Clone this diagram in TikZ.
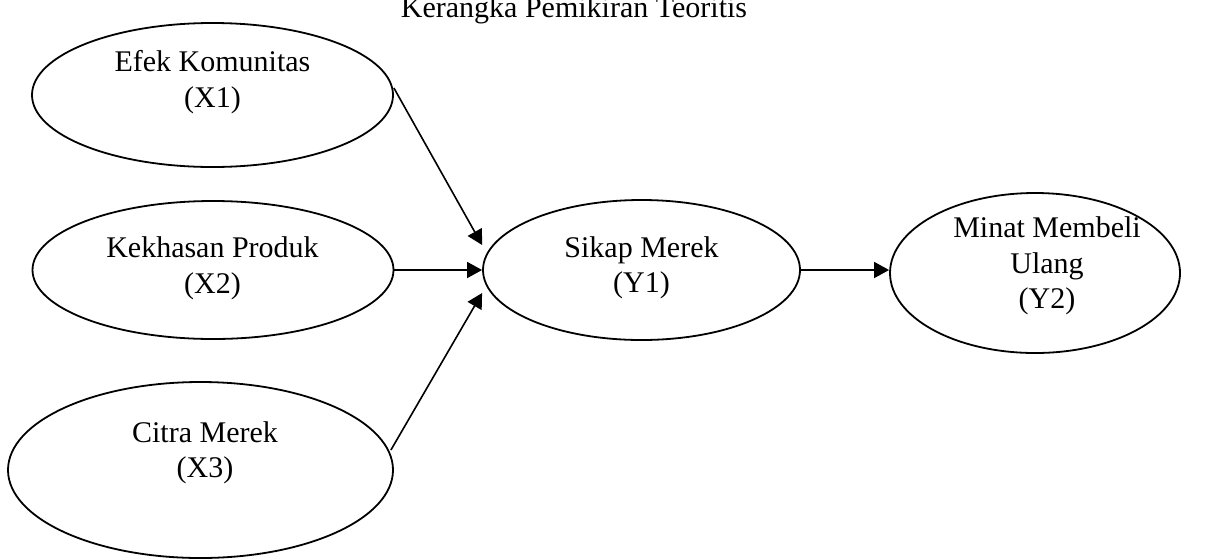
\documentclass[tikz,border=0pt]{standalone}
\usepackage{fontspec}
\setmainfont{Liberation Serif}
\usetikzlibrary{arrows.meta,calc,shapes.geometric}
\begin{document}
\begin{tikzpicture}[x=0.5pt,y=-0.5pt,
  oval/.style={draw,ellipse,line width=0.9pt,inner sep=0pt},
  lbl/.style={anchor=base,inner sep=0pt,font=\fontsize{15pt}{17.5pt}\selectfont},
  conn/.style={line width=0.8pt,-{Triangle[length=7.5pt,width=8pt]}}]
\useasboundingbox (0,0) rectangle (1208,558);

\node[lbl] (title) at (574,17) {Kerangka Pemikiran Teoritis};

\node[oval,minimum width=180.5pt,minimum height=72pt] (x1) at (212.5,95) {};
\node[oval,minimum width=180.5pt,minimum height=69pt] (x2) at (213,270) {};
\node[oval,minimum width=192.5pt,minimum height=88pt] (x3) at (200.5,470) {};
\node[oval,minimum width=158.5pt,minimum height=70pt] (y1) at (641.5,270) {};
\node[oval,minimum width=145pt,minimum height=80pt] (y2) at (1035,273) {};

\node[lbl] (x1a) at (212.5,71) {Efek Komunitas};
\node[lbl] (x1b) at (212.5,107) {(X1)};
\node[lbl] (x2a) at (212.5,257) {Kekhasan Produk};
\node[lbl] (x2b) at (212.5,293) {(X2)};
\node[lbl] (x3a) at (205,442) {Citra Merek};
\node[lbl] (x3b) at (205,477) {(X3)};
\node[lbl] (y1a) at (641.5,257) {Sikap Merek};
\node[lbl] (y1b) at (641.5,292) {(Y1)};
\node[lbl] (y2a) at (1047,237) {Minat Membeli};
\node[lbl] (y2b) at (1047,273) {Ulang};
\node[lbl] (y2c) at (1047,308) {(Y2)};

\draw[conn] ($(x1.east)+(0,-7)$) -- ($(y1.west)+(0,-25)$);
\draw[conn] (x2.east) -- (y1.west);
\draw[conn] ($(x3.east)+(-3,-20)$) -- ($(y1.west)+(0,23)$);
\draw[conn] (y1.east) -- (y2.west |- y1.east);
\end{tikzpicture}
\end{document}
